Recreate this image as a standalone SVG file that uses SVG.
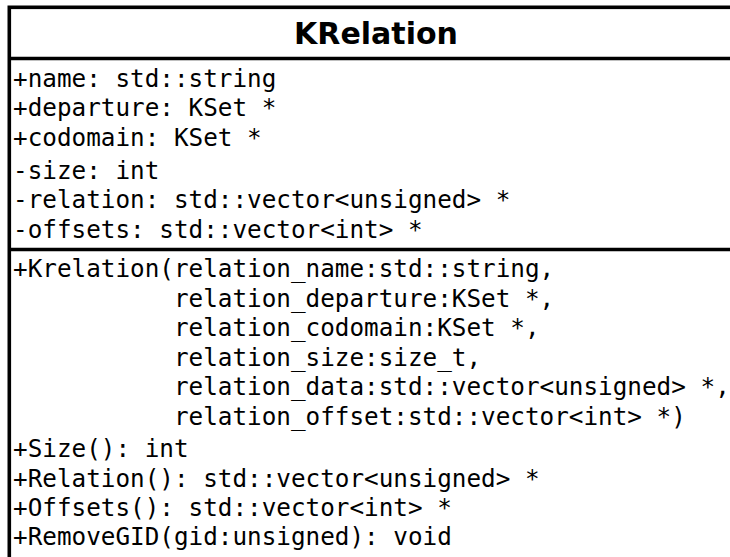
<svg xmlns="http://www.w3.org/2000/svg" width="730" height="557" viewBox="0 0 730 557">
  <style>
    .frame { fill: #ffffff; stroke: #000000; stroke-width: 3.6; }
    .rule { stroke: #000000; stroke-width: 3.6; fill: none; }
    .title { font-family: "DejaVu Sans", "Liberation Sans", sans-serif; font-weight: bold; font-size: 30px; fill: #000000; text-anchor: middle; }
    .member { font-family: "DejaVu Sans Mono", "Liberation Mono", monospace; font-size: 24.3px; fill: #000000; }
  </style>
  <rect width="730" height="557" fill="#ffffff"/>
  <g id="KRelation">
    <!-- class box: extends past the right and bottom edges -->
    <rect class="frame" x="9.3" y="7.3" width="740" height="570"/>
    <line class="rule" x1="9.3" y1="58.5" x2="750" y2="58.5"/>
    <line class="rule" x1="9.3" y1="249.5" x2="750" y2="249.5"/>
    <text class="title" x="376" y="43.5">KRelation</text>
    <!-- attributes -->
    <text class="member" x="13" y="86.5">+name: std::string</text>
    <text class="member" x="13" y="116.2">+departure: KSet *</text>
    <text class="member" x="13" y="145.8">+codomain: KSet *</text>
    <text class="member" x="13" y="178.5">-size: int</text>
    <text class="member" x="13" y="208">-relation: std::vector&lt;unsigned&gt; *</text>
    <text class="member" x="13" y="237.5">-offsets: std::vector&lt;int&gt; *</text>
    <!-- operations -->
    <text class="member" x="13" y="277">+Krelation(relation_name:std::string,</text>
    <text class="member" x="173.9" y="306.5">relation_departure:KSet *,</text>
    <text class="member" x="173.9" y="336">relation_codomain:KSet *,</text>
    <text class="member" x="173.9" y="365.5">relation_size:size_t,</text>
    <text class="member" x="173.9" y="395">relation_data:std::vector&lt;unsigned&gt; *,</text>
    <text class="member" x="173.9" y="424.5">relation_offset:std::vector&lt;int&gt; *)</text>
    <text class="member" x="13" y="457">+Size(): int</text>
    <text class="member" x="13" y="486.5">+Relation(): std::vector&lt;unsigned&gt; *</text>
    <text class="member" x="13" y="516">+Offsets(): std::vector&lt;int&gt; *</text>
    <text class="member" x="13" y="545">+RemoveGID(gid:unsigned): void</text>
  </g>
</svg>
